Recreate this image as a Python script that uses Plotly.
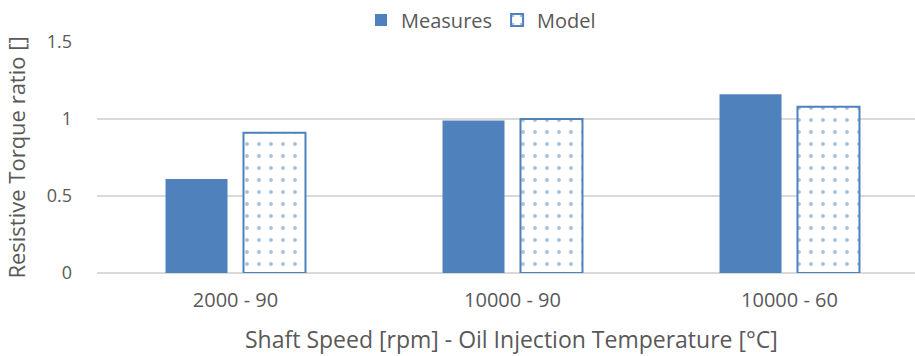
import plotly.graph_objects as go

# Test conditions: shaft speed [rpm] - oil injection temperature [°C]
categories = ["2000 - 90", "10000 - 90", "10000 - 60"]
measures = [0.61, 0.99, 1.16]
model = [0.91, 1.0, 1.08]

BLUE = "#4F81BD"
GREY_TXT = "#595959"
FONT = "'Open Sans', 'Noto Sans', sans-serif"
X_TITLE = "Shaft Speed [rpm] - Oil Injection Temperature [°C]"

fig = go.Figure()
fig.add_trace(go.Bar(
    name="Measures", x=categories, y=measures,
    marker=dict(color=BLUE, line=dict(color=BLUE, width=0)),
))
fig.add_trace(go.Bar(
    name="Model", x=categories, y=model,
    marker=dict(
        color="white",
        line=dict(color=BLUE, width=2),
        pattern=dict(shape=".", fgcolor=BLUE, bgcolor="white",
                     size=12, solidity=0.08, fillmode="overlay"),
    ),
))

W, H = 915, 356
L, R, T, B = 97, 0, 42, 83
plot_w = W - L - R
plot_h = H - T - B
cat_w = 277.0
x_hi = -0.5 + plot_w / cat_w

fig.update_layout(
    width=W, height=H,
    margin=dict(l=L, r=R, t=T, b=B),
    paper_bgcolor="white", plot_bgcolor="white",
    barmode="group", bargap=0.437, bargroupgap=0.205,
    font=dict(family=FONT, color=GREY_TXT, size=18),
    showlegend=True,
    legend=dict(
        orientation="h", x=(481 - L) / plot_w, xanchor="center",
        y=1 + (T - 20) / plot_h, yanchor="middle",
        font=dict(size=20, color=GREY_TXT), itemwidth=30,
        bgcolor="rgba(0,0,0,0)", traceorder="normal",
    ),
    xaxis=dict(
        range=[-0.5, x_hi], showgrid=False, zeroline=False,
        showline=False, ticks="", ticklabelstandoff=13,
        tickfont=dict(size=20, color=GREY_TXT),
    ),
    yaxis=dict(
        range=[0, 1.5], tickvals=[0, 0.5, 1, 1.5],
        ticktext=["0", "0.5", "1", "1.5"],
        showgrid=True, gridcolor="#D9D9D9", gridwidth=1.5,
        zeroline=True, zerolinecolor="#D9D9D9", zerolinewidth=1.5,
        showline=False, ticks="", ticklabelstandoff=24,
        tickfont=dict(size=18, color=GREY_TXT),
        title=dict(text="Resistive Torque ratio []",
                   font=dict(size=22, color=GREY_TXT), standoff=14),
    ),
    annotations=[dict(
        text=X_TITLE, xref="paper", yref="paper",
        x=(511.5 - L) / plot_w, y=-(339 - (T + plot_h)) / plot_h,
        xanchor="center", yanchor="middle", showarrow=False,
        font=dict(size=23, color=GREY_TXT),
    )],
)

fig.write_html("out.html")
